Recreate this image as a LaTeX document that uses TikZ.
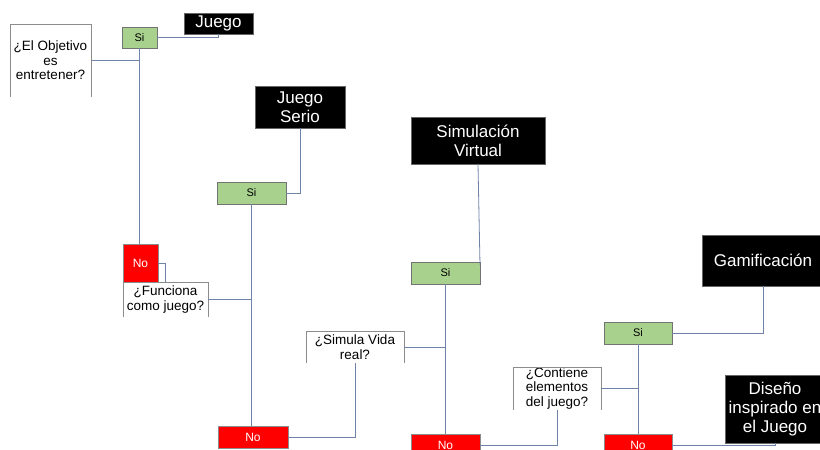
\documentclass[tikz,border=0pt]{standalone}
\usepackage{fontspec}
\setmainfont{Liberation Sans}
\definecolor{sigreen}{HTML}{A9D18E}
\definecolor{nored}{HTML}{FF0000}
\definecolor{conn}{HTML}{6F82A8}
\begin{document}
\begin{tikzpicture}[x=1pt,y=-1pt,
  every node/.style={inner sep=0pt,outer sep=0pt,align=center},
  sibox/.style={fill=sigreen,draw=black!55,line width=0.5pt,font=\fontsize{11}{12}\selectfont},
  nobox/.style={fill=nored,draw=black!45,line width=0.5pt,text=white,font=\fontsize{12}{13}\selectfont},
  endbox/.style={fill=black,draw=black!60,line width=0.6pt,text=white,font=\fontsize{17}{19}\selectfont},
  qbox/.style={font=\fontsize{13.5}{14.5}\selectfont},
  qline/.style={draw=black!45,line width=0.5pt},
  link/.style={draw=conn,line width=0.8pt}]
\useasboundingbox (0,0) rectangle (820,450);
\clip (0,0) rectangle (820,450);
% decision boxes
\node[qbox,minimum width=81,minimum height=73] (q1) at (50.5,60.5) {¿El Objetivo\\es\\entretener?};
\node[qbox,minimum width=85,minimum height=35] (q2) at (165.5,299.5) {¿Funciona\\como juego?};
\node[qbox,minimum width=98,minimum height=32] (q3) at (355,347) {¿Simula Vida\\real?};
\node[qbox,minimum width=88,minimum height=43] (q4) at (557,388.5) {¿Contiene\\elementos\\del juego?};
\foreach \q in {q1,q2,q3,q4}{\draw[qline] (\q.south west) |- (\q.north east) -- (\q.south east);}
% yes / no boxes
\node[sibox,minimum width=35,minimum height=21] (si1) at (139.5,37.5) {Si};
\node[sibox,minimum width=69,minimum height=22] (si2) at (251.5,193) {Si};
\node[sibox,minimum width=69,minimum height=22] (si3) at (445.5,273) {Si};
\node[sibox,minimum width=68,minimum height=22] (si4) at (638,333) {Si};
\node[nobox,minimum width=35,minimum height=38] (no1) at (140.5,263) {No};
\node[nobox,minimum width=70,minimum height=22] (no2) at (253,437) {No};
\node[nobox,minimum width=69,minimum height=22] (no3) at (445.5,445) {No};
\node[nobox,minimum width=68,minimum height=22] (no4) at (638,445) {No};
% outcomes
\node[endbox,minimum width=69,minimum height=21] (juego) at (218.5,23.5) {Juego};
\node[endbox,minimum width=90,minimum height=42] (serio) at (300,107) {Juego\\Serio};
\node[endbox,minimum width=134,minimum height=47] (sv) at (478,140.5) {Simulación\\Virtual};
\node[endbox,minimum width=122,minimum height=51] (gam) at (763,260.5) {Gamificación};
\node[endbox,minimum width=100,minimum height=68] (dis) at (775,409) {Diseño\\inspirado en\\el Juego};
% connectors
\draw[link] (si1.east) -| (juego.south);
\draw[link] (q1.east) -- (q1.east -| si1.south);
\draw[link] (si1.south) -- (si1.south |- no1.north);
\draw[link] (si2.east) -| (serio.south);
\draw[link] (no1.east) -| (q2.north);
\draw[link] (q2.east) -- (q2.east -| si2.south);
\draw[link] (si2.south) -- (si2.south |- no2.north);
\draw[link] (no2.east) -| (q3.south);
\draw[link] (q3.east) -- (q3.east -| si3.south);
\draw[link] (si3.south) -- (no3.north);
\draw[link] (sv.south) -- ([yshift=-3pt]si3.north east);
\draw[link] (no3.east) -| (q4.south);
\draw[link] (q4.east) -- (q4.east -| si4.south);
\draw[link] (si4.south) -- (no4.north);
\draw[link] (si4.east) -| (gam.south);
\draw[link] (no4.east) -| (dis.south);
\end{tikzpicture}
\end{document}
